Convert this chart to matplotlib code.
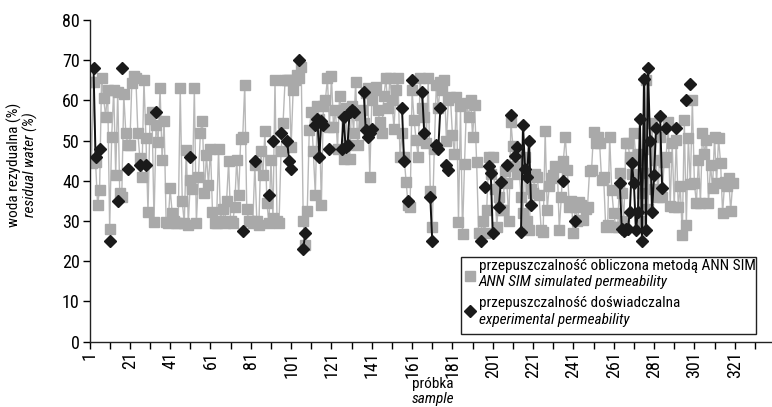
import numpy as np
import matplotlib
matplotlib.use("Agg")
import matplotlib.pyplot as plt
from matplotlib.lines import Line2D
from matplotlib.patches import Rectangle
from matplotlib import font_manager

available = {f.name for f in font_manager.fontManager.ttflist}
if 'Liberation Sans Narrow' in available:
    main_font, fs = 'Liberation Sans Narrow', 11.5
elif 'DejaVu Sans Condensed' in available:
    main_font, fs = 'DejaVu Sans Condensed', 10.0
elif 'Roboto Condensed' in available:
    main_font, fs = 'Roboto Condensed', 11.0
else:
    main_font, fs = 'Liberation Sans', 10.0
plt.rcParams['font.family'] = [main_font, 'DejaVu Sans']
tfs = fs * 1.18

# ANN SIM simulated values (samples 1..320)
sim_values = [
    64.5, 44.5, 64.7, 44.8, 34, 37.7, 65.5, 60.5, 56, 62.6,
    28, 51, 62.6, 41.5, 62.2, 37, 36, 61.5, 52, 49,
    49, 64.3, 66, 65.5, 51.8, 45.6, 41, 65, 50.6, 32.2,
    55.5, 57, 29.7, 54, 49.7, 63, 45.2, 55, 29.7, 29.5,
    38.1, 32, 30, 29.4, 29.5, 63, 35, 29.4, 47.7, 29,
    40.2, 38, 63, 29.5, 41, 52, 55, 37, 46.5, 39,
    48, 32.3, 29.5, 29.5, 48, 30, 33, 29.5, 35, 45,
    30, 29.5, 33.6, 45.2, 36.5, 50.5, 51, 63.8, 33, 30,
    30, 29.5, 44, 30, 29, 47.3, 41.5, 52.3, 34.4, 29.5,
    45.2, 30.7, 65.1, 30, 29.5, 47.3, 54.3, 65.1, 65, 65,
    48.5, 62.6, 65, 66.3, 65.5, 68.4, 30, 24.1, 32.5, 52.6,
    57.2, 47.3, 36.5, 58.5, 55.5, 34, 58.5, 60.1, 65.5, 53.5,
    66, 53.5, 57.6, 48, 61, 57.2, 45.5, 58, 49, 45.5,
    58.5, 52, 64.7, 49, 56.4, 57.6, 54.3, 61.8, 63, 41,
    60, 62.5, 63.4, 57.6, 54.7, 52, 61, 65.5, 58, 65.5,
    60, 53, 62.5, 65.5, 45.9, 52, 45.9, 39.7, 34, 33.6,
    62.5, 55.1, 50.1, 45.9, 65.5, 58, 56, 49.4, 65.5, 37.6,
    28.5, 48, 63.9, 58, 64.7, 62.6, 65, 49.8, 60, 60.9,
    51.4, 46.8, 60.9, 29.8, 58.5, 26.9, 44.3, 59.3, 56, 60.1,
    51, 58.8, 44.7, 27, 27, 30, 27, 32.8, 46, 41.8,
    46, 38, 28.5, 36, 32.8, 32.8, 42.4, 39.4, 30, 54.7,
    48.6, 43.6, 41.8, 43.6, 36, 31.9, 46, 30, 27.8, 38,
    36.9, 41.8, 41, 36.5, 27.8, 27.4, 52.3, 32.8, 38.6, 40.6,
    41.5, 43.6, 43.5, 27.8, 36, 45, 51, 42.6, 33.6, 35,
    27, 33.6, 30, 34.8, 34, 30.2, 33, 33.6, 42.4, 42.7,
    52.2, 49.4, 51, 49.3, 40.1, 41, 28.6, 29, 51, 37.7,
    32, 28.6, 28.6, 42, 36.9, 30, 49.4, 49.4, 46, 41.8,
    51.9, 45.2, 46.8, 30, 37, 42, 65.1, 33, 48, 54.3,
    38, 45.2, 36, 51, 36.1, 44.8, 46, 54.7, 33.8, 49.3,
    33.4, 50.2, 33.6, 38.6, 26.5, 55.1, 29, 50.6, 39.2, 60.1,
    39.4, 34.4, 45.2, 34.6, 51.8, 46.8, 50.2, 34.4, 44, 38.1,
    51, 39.4, 50.6, 44.4, 31.9, 39.6, 38.6, 40.6, 32.6, 39.4,
]

# experimental values (sample numbers and values)
exp_samples = [3, 4, 6, 11, 15, 17, 20, 26, 29, 34, 51, 77, 83, 90, 92, 96,
               99, 100, 101, 105, 107, 108, 113, 114, 115, 116, 117, 120,
               126, 127, 128, 129, 130, 131, 132, 137, 138, 139, 140, 141,
               156, 157, 159, 161, 166, 167, 170, 171, 173, 174, 175, 178, 179,
               195, 197, 199, 200, 201, 204, 205, 208, 210, 212, 213,
               215, 216, 217, 218, 219, 220, 236, 242,
               264, 265, 266, 267, 268, 269, 270, 271, 272, 273, 274, 275,
               276, 277, 278, 279, 280, 281, 282, 284, 285, 287, 292, 297, 299]
exp_values = [68, 46, 48, 25, 35, 68, 43, 44, 44, 57, 46, 27.5, 45, 36.5, 50, 52,
              50, 45, 43, 70, 23, 27, 54, 55.5, 46, 55, 54, 48,
              48, 56, 48.5, 49, 57, 57.5, 57, 62, 52.7, 51, 52, 53,
              58, 45, 35, 65, 62, 52, 36, 25, 49, 48, 58, 44, 42.7,
              25, 38.5, 43.8, 42, 27, 33.6, 39.6, 44, 56.4, 46.2, 48.4,
              27.4, 54, 43, 41, 50, 34, 40, 30,
              39.5, 28, 27.5, 28, 28, 32.3, 44.4, 39.4, 27.8, 32.3, 55.3, 25,
              65.3, 27.8, 68, 50, 32.3, 41.5, 53.2, 56.2, 38.3, 53.2, 53.2, 60, 64]

y_ticks = [0, 10, 20, 30, 40, 50, 60, 70, 80]
x_tick_labels = [1, 21, 41, 61, 81, 101, 121, 141, 161, 181, 201, 221, 241, 261, 281, 301, 321]

W, H = 772, 407
fig = plt.figure(figsize=(W / 100, H / 100), dpi=100)
ax = fig.add_axes([89.5 / W, (H - 341.7) / H, (771 - 89.5) / W, (341.7 - 20) / H])

sim_x = np.arange(1, len(sim_values) + 1)
gray = '#a9a9a9'
ax.plot(sim_x, sim_values, color='#b8b8b8', lw=1.0, marker='s', ms=6.5,
        mfc=gray, mec=gray, zorder=2)

n = 340
exp_full = np.full(n, np.nan)
for s, v in zip(exp_samples, exp_values):
    exp_full[s - 1] = v
ax.plot(np.arange(1, n + 1), exp_full, color='#111111', lw=1.4, zorder=3)
ax.plot(exp_samples, exp_values, ls='none', marker='D', ms=6.3,
        mfc='#1a1a1a', mec='#1a1a1a', zorder=4)

ax.set_xlim(1, 339)
ax.set_ylim(0, 80)
ax.set_yticks(y_ticks)
ax.set_yticklabels([str(t) for t in y_ticks], fontsize=tfs)
ax.set_xticks(x_tick_labels)
ax.set_xticklabels([str(t) for t in x_tick_labels], rotation=90, fontsize=tfs)
ax.set_xticks(np.arange(11, 340, 20), minor=True)
ax.tick_params(axis='x', which='both', direction='out', length=5, width=1, pad=2)
ax.tick_params(axis='y', direction='out', length=5, width=1, pad=2)
for sp in ['top', 'right']:
    ax.spines[sp].set_visible(False)
for sp in ['left', 'bottom']:
    ax.spines[sp].set_linewidth(1.0)
    ax.spines[sp].set_color('#222222')

# axis labels
fig.text(14 / W, 1 - 165 / H, 'woda rezydualna (%)', rotation=90, ha='center', va='center', fontsize=fs)
fig.text(30 / W, 1 - 165 / H, 'residual water (%)', rotation=90, ha='center', va='center',
         fontsize=fs, style='italic')
fig.text(433 / W, 1 - 384 / H, 'próbka', ha='center', va='center', fontsize=fs)
fig.text(433 / W, 1 - 399 / H, 'sample', ha='center', va='center', fontsize=fs, style='italic')

# legend box
fig.add_artist(Rectangle((460.7 / W, 1 - 334.3 / H), (756 - 460.7) / W, (334.3 - 257.3) / H,
                         transform=fig.transFigure, fill=True, facecolor='white',
                         edgecolor='#222222', lw=1.0, zorder=5))
fig.add_artist(Line2D([470 / W], [1 - 276 / H], transform=fig.transFigure, marker='s', ms=6.5,
                      mfc=gray, mec=gray, ls='none', zorder=6))
fig.add_artist(Line2D([470 / W], [1 - 311 / H], transform=fig.transFigure, marker='D', ms=6.0,
                      mfc='#1a1a1a', mec='#1a1a1a', ls='none', zorder=6))
fig.text(479 / W, 1 - 266 / H, 'przepuszczalność obliczona metodą ANN SIM', va='center', fontsize=fs, zorder=7)
fig.text(479 / W, 1 - 282 / H, 'ANN SIM simulated permeability', va='center', fontsize=fs,
         style='italic', zorder=7)
fig.text(479 / W, 1 - 303 / H, 'przepuszczalność doświadczalna', va='center', fontsize=fs, zorder=7)
fig.text(479 / W, 1 - 320 / H, 'experimental permeability', va='center', fontsize=fs,
         style='italic', zorder=7)

fig.savefig('out.png', dpi=100)
